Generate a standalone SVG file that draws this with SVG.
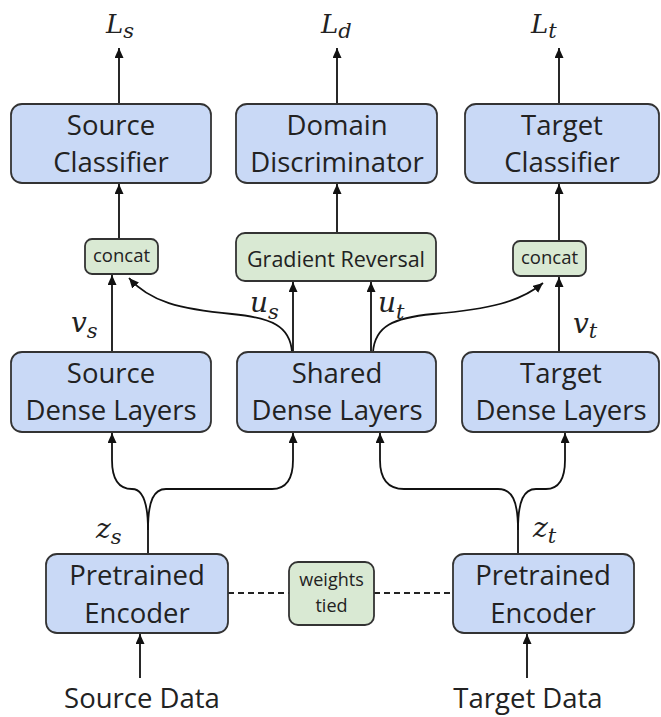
<svg xmlns="http://www.w3.org/2000/svg" width="661" height="717" viewBox="0 0 661 717">
  <defs>
    <marker id="head" markerUnits="userSpaceOnUse" markerWidth="11" markerHeight="9" refX="10" refY="4.5" orient="auto">
      <path d="M0,0 L10,4.5 L0,9 Z" fill="#111"/>
    </marker>
    <style>
      .blue { fill: #c9d9f6; stroke: #333; stroke-width: 1.8; }
      .green { fill: #d9e9d3; stroke: #333; stroke-width: 1.8; }
      .lbl { font-family: "Open Sans", "Liberation Sans", sans-serif; font-size: 27.5px; fill: #222; text-anchor: middle; }
      .sm { font-family: "Open Sans", "Liberation Sans", sans-serif; fill: #222; text-anchor: middle; }
      .math { font-family: "DejaVu Serif", "Liberation Serif", serif; font-style: italic; fill: #222; }
      .arrow { fill: none; stroke: #111; stroke-width: 1.8; marker-end: url(#head); }
      .dash { fill: none; stroke: #222; stroke-width: 1.8; stroke-dasharray: 6 4; }
    </style>
  </defs>
  <rect width="661" height="717" fill="#fff"/>

  <!-- connectors -->
  <g id="connectors">
    <!-- outputs -->
    <line class="arrow" x1="119" y1="104" x2="119" y2="48"/>
    <line class="arrow" x1="337" y1="104" x2="337" y2="48"/>
    <line class="arrow" x1="559" y1="104" x2="559" y2="48"/>
    <!-- into heads -->
    <line class="arrow" x1="119" y1="239" x2="119" y2="184"/>
    <line class="arrow" x1="337" y1="233" x2="337" y2="184"/>
    <line class="arrow" x1="559" y1="241" x2="559" y2="184"/>
    <!-- dense layers to concat / reversal -->
    <line class="arrow" x1="112" y1="352" x2="112" y2="275"/>
    <line class="arrow" x1="559" y1="352" x2="559" y2="277"/>
    <line class="arrow" x1="293" y1="352" x2="293" y2="282"/>
    <line class="arrow" x1="371" y1="352" x2="371" y2="282"/>
    <path class="arrow" d="M292,352 C290,326 272,318 232,314 C180,309 150,302 129,278"/>
    <path class="arrow" d="M373,352 C375,326 393,318 433,314 C490,309 520,302 543,283"/>
    <!-- encoder fan-out, source side -->
    <path class="arrow" d="M148,555 L148,530 C148,500 142,489 132,489 C118,489 112,478 112,460 L112,433"/>
    <path class="arrow" d="M148,530 C148,500 154,489 166,489 L272,489 C287,489 293,478 293,460 L293,433"/>
    <!-- encoder fan-out, target side -->
    <path class="arrow" d="M518,555 L518,530 C518,500 512,489 498,489 L404,489 C387,489 380,478 380,460 L380,433"/>
    <path class="arrow" d="M518,530 C518,500 524,489 536,489 L546,489 C560,489 565,478 565,460 L565,433"/>
    <!-- data inputs -->
    <line class="arrow" x1="140" y1="678" x2="140" y2="634"/>
    <line class="arrow" x1="527" y1="678" x2="527" y2="634"/>
    <!-- weight tying -->
    <line class="dash" x1="228" y1="593" x2="289" y2="593"/>
    <line class="dash" x1="374" y1="593" x2="453" y2="593"/>
  </g>

  <!-- loss labels -->
  <g id="loss-s"><text class="math" x="106" y="33" font-size="26">L<tspan font-size="21" dy="5">s</tspan></text></g>
  <g id="loss-d"><text class="math" x="321" y="33" font-size="26">L<tspan font-size="21" dy="5">d</tspan></text></g>
  <g id="loss-t"><text class="math" x="531" y="33" font-size="26">L<tspan font-size="21" dy="5">t</tspan></text></g>

  <!-- heads -->
  <g id="source-classifier">
    <rect class="blue" x="11" y="104" width="200" height="79" rx="11"/>
    <text class="lbl" x="111" y="135">Source</text>
    <text class="lbl" x="111" y="172">Classifier</text>
  </g>
  <g id="domain-discriminator">
    <rect class="blue" x="236" y="104" width="201" height="79" rx="11"/>
    <text class="lbl" x="337" y="135">Domain</text>
    <text class="lbl" x="337" y="172">Discriminator</text>
  </g>
  <g id="target-classifier">
    <rect class="blue" x="465" y="104" width="194" height="79" rx="11"/>
    <text class="lbl" x="562" y="135">Target</text>
    <text class="lbl" x="562" y="172">Classifier</text>
  </g>

  <!-- combiners -->
  <g id="concat-source">
    <rect class="green" x="85" y="239" width="73" height="35" rx="7"/>
    <text class="sm" x="121.5" y="262" font-size="18.5">concat</text>
  </g>
  <g id="gradient-reversal">
    <rect class="green" x="236" y="233" width="200" height="48" rx="9"/>
    <text class="sm" x="336" y="267" font-size="21.5">Gradient Reversal</text>
  </g>
  <g id="concat-target">
    <rect class="green" x="513" y="241" width="73" height="35" rx="7"/>
    <text class="sm" x="549.5" y="264" font-size="18.5">concat</text>
  </g>

  <!-- feature labels -->
  <g id="label-vs"><text class="math" x="71" y="332" font-size="28">v<tspan font-size="21" dy="6">s</tspan></text></g>
  <g id="label-us"><text class="math" x="250" y="312" font-size="28">u<tspan font-size="21" dy="7">s</tspan></text></g>
  <g id="label-ut"><text class="math" x="378" y="312" font-size="28">u<tspan font-size="21" dy="7">t</tspan></text></g>
  <g id="label-vt"><text class="math" x="573" y="333" font-size="28">v<tspan font-size="21" dy="5">t</tspan></text></g>

  <!-- dense layers -->
  <g id="source-dense">
    <rect class="blue" x="11" y="352" width="200" height="80" rx="11"/>
    <text class="lbl" x="111" y="383">Source</text>
    <text class="lbl" x="111" y="420">Dense Layers</text>
  </g>
  <g id="shared-dense">
    <rect class="blue" x="237" y="352" width="199" height="80" rx="11"/>
    <text class="lbl" x="337" y="383">Shared</text>
    <text class="lbl" x="337" y="420">Dense Layers</text>
  </g>
  <g id="target-dense">
    <rect class="blue" x="462" y="352" width="197" height="80" rx="11"/>
    <text class="lbl" x="561" y="383">Target</text>
    <text class="lbl" x="561" y="420">Dense Layers</text>
  </g>

  <!-- encoder outputs -->
  <g id="label-zs"><text class="math" x="96" y="538" font-size="28">z<tspan font-size="21" dy="6">s</tspan></text></g>
  <g id="label-zt"><text class="math" x="533" y="537" font-size="28">z<tspan font-size="21" dy="6">t</tspan></text></g>

  <!-- encoders -->
  <g id="source-encoder">
    <rect class="blue" x="46" y="554" width="182" height="79" rx="11"/>
    <text class="lbl" x="137" y="585">Pretrained</text>
    <text class="lbl" x="137" y="623">Encoder</text>
  </g>
  <g id="weights-tied">
    <rect class="green" x="289" y="562" width="85" height="63" rx="9"/>
    <text class="sm" x="331.5" y="586" font-size="18">weights</text>
    <text class="sm" x="331.5" y="612" font-size="18">tied</text>
  </g>
  <g id="target-encoder">
    <rect class="blue" x="453" y="554" width="181" height="79" rx="11"/>
    <text class="lbl" x="543" y="585">Pretrained</text>
    <text class="lbl" x="543" y="623">Encoder</text>
  </g>

  <!-- inputs -->
  <g id="source-data"><text class="lbl" x="142" y="708">Source Data</text></g>
  <g id="target-data"><text class="lbl" x="528" y="708">Target Data</text></g>
</svg>
